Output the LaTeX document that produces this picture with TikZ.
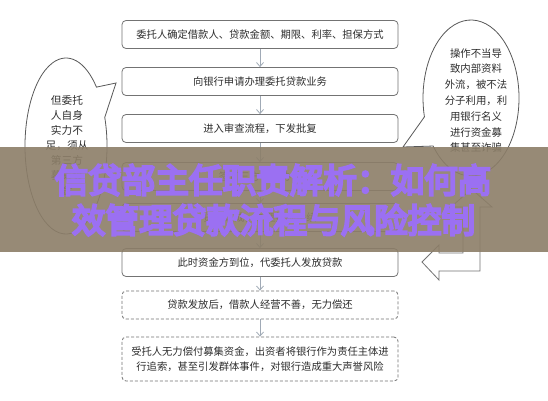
\documentclass[tikz,border=0pt]{standalone}
\usepackage{fontspec}
\setmainfont{Noto Sans CJK SC}
\newfontfamily\bandfont{Noto Sans CJK SC}[FakeBold=7]
\usepackage{tikz}
\usetikzlibrary{arrows.meta, calc}
\definecolor{linegray}{RGB}{115,115,115}
\definecolor{arrowgray}{RGB}{160,170,182}
\definecolor{bandbrown}{RGB}{140,126,104}
\definecolor{bandpurple}{RGB}{155,112,242}
\definecolor{textgray}{RGB}{45,45,45}

\begin{document}
\begin{tikzpicture}[x=1pt, y=-1pt,
    flowbox/.style={draw=linegray, line width=0.8pt, rounded corners=4pt, minimum width=276pt, minimum height=28pt, inner sep=0pt, text=textgray, align=center, font=\fontsize{10.3}{15}\selectfont},
    riskbox/.style={flowbox, dash pattern=on 3pt off 2pt},
    flowarrow/.style={draw=arrowgray, line width=0.8pt, -{Straight Barb[length=4pt,width=7pt]}},
    bubble/.style={draw=black!65, line width=0.8pt, fill=white},
    bubbletext/.style={text=textgray, align=center, inner sep=0pt}]

    \fill[white] (0,0) rectangle (548,400);
    \useasboundingbox (0,0) rectangle (548,400);

    % main flow
    \node[flowbox] (entrust) at (260,34.5) {委托人确定借款人、贷款金额、期限、利率、担保方式};
    \node[flowbox] (apply) at (260,81.5) {向银行申请办理委托贷款业务};
    \node[flowbox] (review) at (260,128.5) {进入审查流程，下发批复};
    \node[flowbox] (contract) at (260,176.5) {签订三方合作协议};
    \node[flowbox] (procedure) at (260,217.5) {贷款达成，办理抵押手续};
    \node[flowbox] (release) at (260,262.5) {此时资金方到位，代委托人发放贷款};
    \node[riskbox] (default) at (260,305) {贷款发放后，借款人经营不善，无力偿还};
    \node[riskbox, minimum height=44pt] (risk) at (260,359) {受托人无力偿付募集资金，出资者将银行作为责任主体进\\行追索，甚至引发群体事件，对银行造成重大声誉风险};

    \foreach \from/\to in {entrust/apply, apply/review, review/contract, contract/procedure, procedure/release, release/default, default/risk}
        \draw[flowarrow] (\from) -- (\to);

    % left bubble
    \coordinate (leftc) at (66,146);
    \coordinate (lefttip) at (116,83);
    \draw[bubble] (leftc) ++(-19:41 and 88) arc[start angle=-19, end angle=318, x radius=41, y radius=88] -- (lefttip) -- cycle;
    \node[bubbletext, font=\fontsize{10.7}{15}\selectfont] (lefttext) at (67,145) {但委托\\人自身\\实力不\\足，须从\\第三方\\募集资\\金};

    % right bubble
    \coordinate (rightc) at (471,98);
    \coordinate (righttip) at (403,147);
    \draw[bubble] (rightc) ++(142:48 and 78) arc[start angle=142, end angle=-194, x radius=48, y radius=78] -- (righttip) -- cycle;
    \node[bubbletext, font=\fontsize{10.4}{15.8}\selectfont] (righttext) at (476,100.5) {操作不当导\\致内部资料\\外流，被不法\\分子利用，利\\用银行名义\\进行资金募\\集甚至诈骗};

    % turning arrow
    \draw[linegray, line width=0.8pt, fill=white] (422,262) -- (439,245) -- (439,253) -- (463,253) -- (463,207) -- (451,207) -- (471.5,189) -- (492,207) -- (480,207) -- (480,271) -- (439,271) -- (439,280) -- cycle;

    % banner
    \fill[bandbrown, opacity=0.9] (0,147) rectangle (548,252);
    \node[font=\bandfont\fontsize{33.6}{40}\selectfont, text=bandpurple, inner sep=0pt] (titleone) at (273,180) {信贷部主任职责解析：如何高};
    \node[font=\bandfont\fontsize{33.6}{40}\selectfont, text=bandpurple, inner sep=0pt] (titletwo) at (273.5,220) {效管理贷款流程与风险控制};

\end{tikzpicture}
\end{document}
